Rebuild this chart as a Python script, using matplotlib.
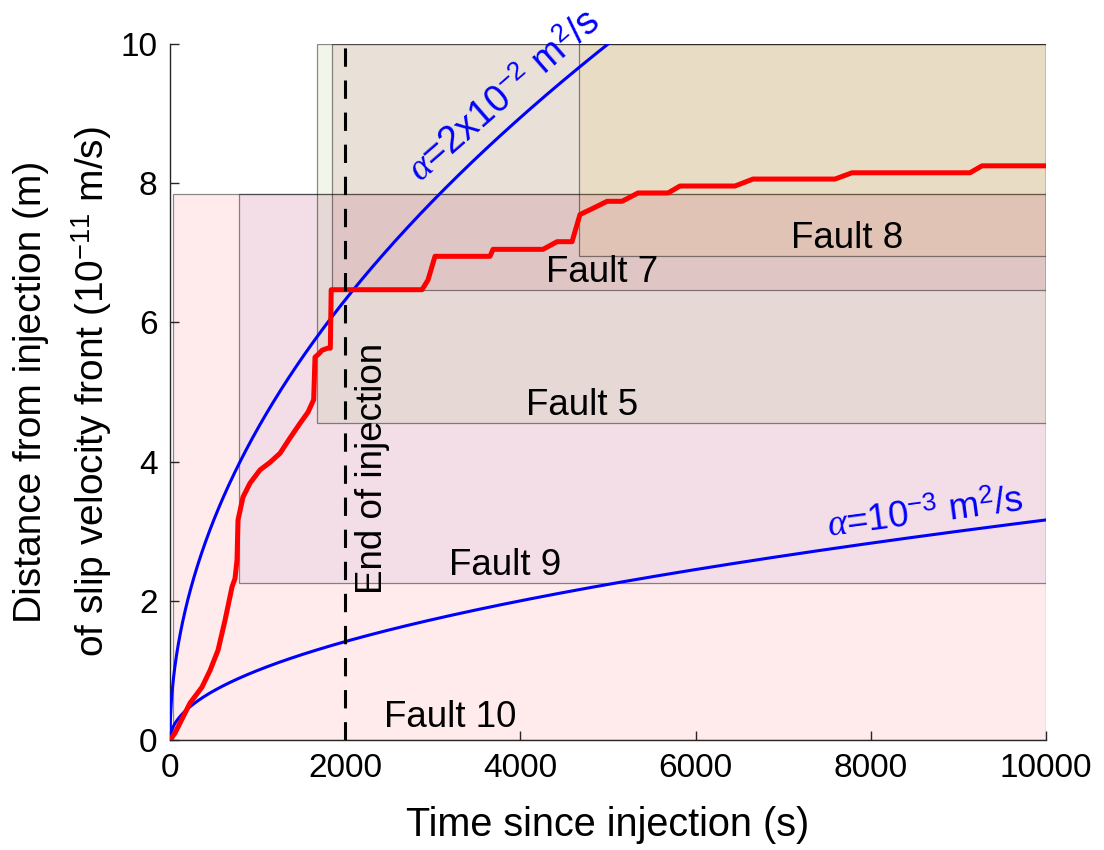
import numpy as np
import matplotlib
matplotlib.use("Agg")
import matplotlib.pyplot as plt
from matplotlib.patches import Rectangle

plt.rcParams['font.family'] = ['Liberation Sans', 'DejaVu Sans']
plt.rcParams['mathtext.fontset'] = 'custom'
plt.rcParams['mathtext.rm'] = 'Liberation Sans'
plt.rcParams['mathtext.it'] = 'Liberation Serif:italic'
plt.rcParams['mathtext.bf'] = 'Liberation Sans:bold'

# slip velocity front (time in s, distance in m)
front_t = [0, 57, 228, 365, 457, 548, 628, 708, 742, 765, 776, 833, 913, 1027,
           1142, 1256, 1370, 1484, 1575, 1640, 1655, 1700, 1735, 1800, 1830,
           1840, 2877, 2945, 3025, 3653, 3687, 4258, 4418, 4589, 4680, 4829,
           4989, 5160, 5342, 5685, 5822, 6450, 6655, 7591, 7785, 9132, 9269,
           10000]
front_d = [0, 0.10, 0.53, 0.76, 1.00, 1.29, 1.72, 2.20, 2.32, 2.59, 3.16, 3.49,
           3.69, 3.88, 3.99, 4.12, 4.34, 4.55, 4.71, 4.89, 5.50, 5.55, 5.60,
           5.63, 5.63, 6.47, 6.47, 6.61, 6.95, 6.95, 7.05, 7.05, 7.16, 7.16,
           7.55, 7.64, 7.74, 7.74, 7.86, 7.86, 7.96, 7.96, 8.06, 8.06, 8.15,
           8.15, 8.25, 8.25]

# diffusivities for the sqrt(alpha*t) reference curves
alpha_hi = 2e-2
alpha_lo = 1e-3
t_end_inj = 2000

# fault activity windows: name, start time, lower and upper distance
fault_names = ['Fault 10', 'Fault 9', 'Fault 5', 'Fault 7', 'Fault 8']
fault_t0 = [35, 785, 1675, 1846, 4669]
fault_d0 = [0, 2.25, 4.55, 6.46, 6.95]
fault_d1 = [7.85, 7.85, 10, 10, 10]
fault_cols = [(1, 0, 0), (0.55, 0.45, 0.8), (0.466, 0.674, 0.188),
              (0.635, 0.078, 0.184), (0.929, 0.694, 0.125)]
fault_alpha = [0.08, 0.1, 0.1, 0.09, 0.1]
fault_lbl_xy = [(3196, 0.33), (3824, 2.51), (4703, 4.81), (4932, 6.72), (7728, 7.21)]

fig = plt.figure(figsize=(11.04, 8.5), dpi=100)
ax = fig.add_axes([0.154, 0.1294, 0.7935, 0.8188])

for i in range(len(fault_names)):
    ax.add_patch(Rectangle((fault_t0[i], fault_d0[i]), 10000 - fault_t0[i],
                           fault_d1[i] - fault_d0[i],
                           facecolor=fault_cols[i] + (fault_alpha[i],),
                           edgecolor=(0, 0, 0, 0.45), lw=0.9, zorder=1))
    ax.text(fault_lbl_xy[i][0], fault_lbl_xy[i][1], fault_names[i], fontsize=26.5,
            ha='center', va='center', zorder=5)

t = np.linspace(0, 10000, 2001)
ax.plot(t, np.sqrt(alpha_hi * t), color='b', lw=2.2, zorder=3)
ax.plot(t, np.sqrt(alpha_lo * t), color='b', lw=2.2, zorder=3)
ax.plot(front_t, front_d, color='r', lw=3.6, zorder=4)

ln, = ax.plot([t_end_inj, t_end_inj], [0, 10], color='k', lw=2.2, zorder=4)
ln.set_dashes((6, 4.5))
ax.text(2306, 3.9, 'End of injection', rotation=90, fontsize=26.5,
        ha='center', va='center', zorder=5)

ax.text(2860, 8.0, r'$\alpha$=2x10$^{-2}$ m$^2$/s', color='b', fontsize=27,
        rotation=41, rotation_mode='anchor', ha='left', va='baseline', zorder=5)
ax.text(7520, 2.92, r'$\alpha$=10$^{-3}$ m$^2$/s', color='b', fontsize=26.5,
        rotation=7.6, rotation_mode='anchor', ha='left', va='baseline', zorder=5)

ax.set_xlim(0, 10000)
ax.set_ylim(0, 10)
ax.set_xticks([0, 2000, 4000, 6000, 8000, 10000])
ax.set_yticks([0, 2, 4, 6, 8, 10])
ax.tick_params(direction='in', length=6.5, width=1, labelsize=24, color='#262626',
               pad=9)
for s in ['top', 'right']:
    ax.spines[s].set_visible(False)
for s in ['left', 'bottom']:
    ax.spines[s].set_color('#262626')
    ax.spines[s].set_linewidth(1)

ax.set_xlabel('Time since injection (s)', fontsize=28.5, labelpad=16)
ax.set_ylabel('Distance from injection (m)\nof slip velocity front (10$^{-11}$ m/s)',
              fontsize=28, labelpad=5, linespacing=1.58)

fig.savefig('out.png', dpi=100)
